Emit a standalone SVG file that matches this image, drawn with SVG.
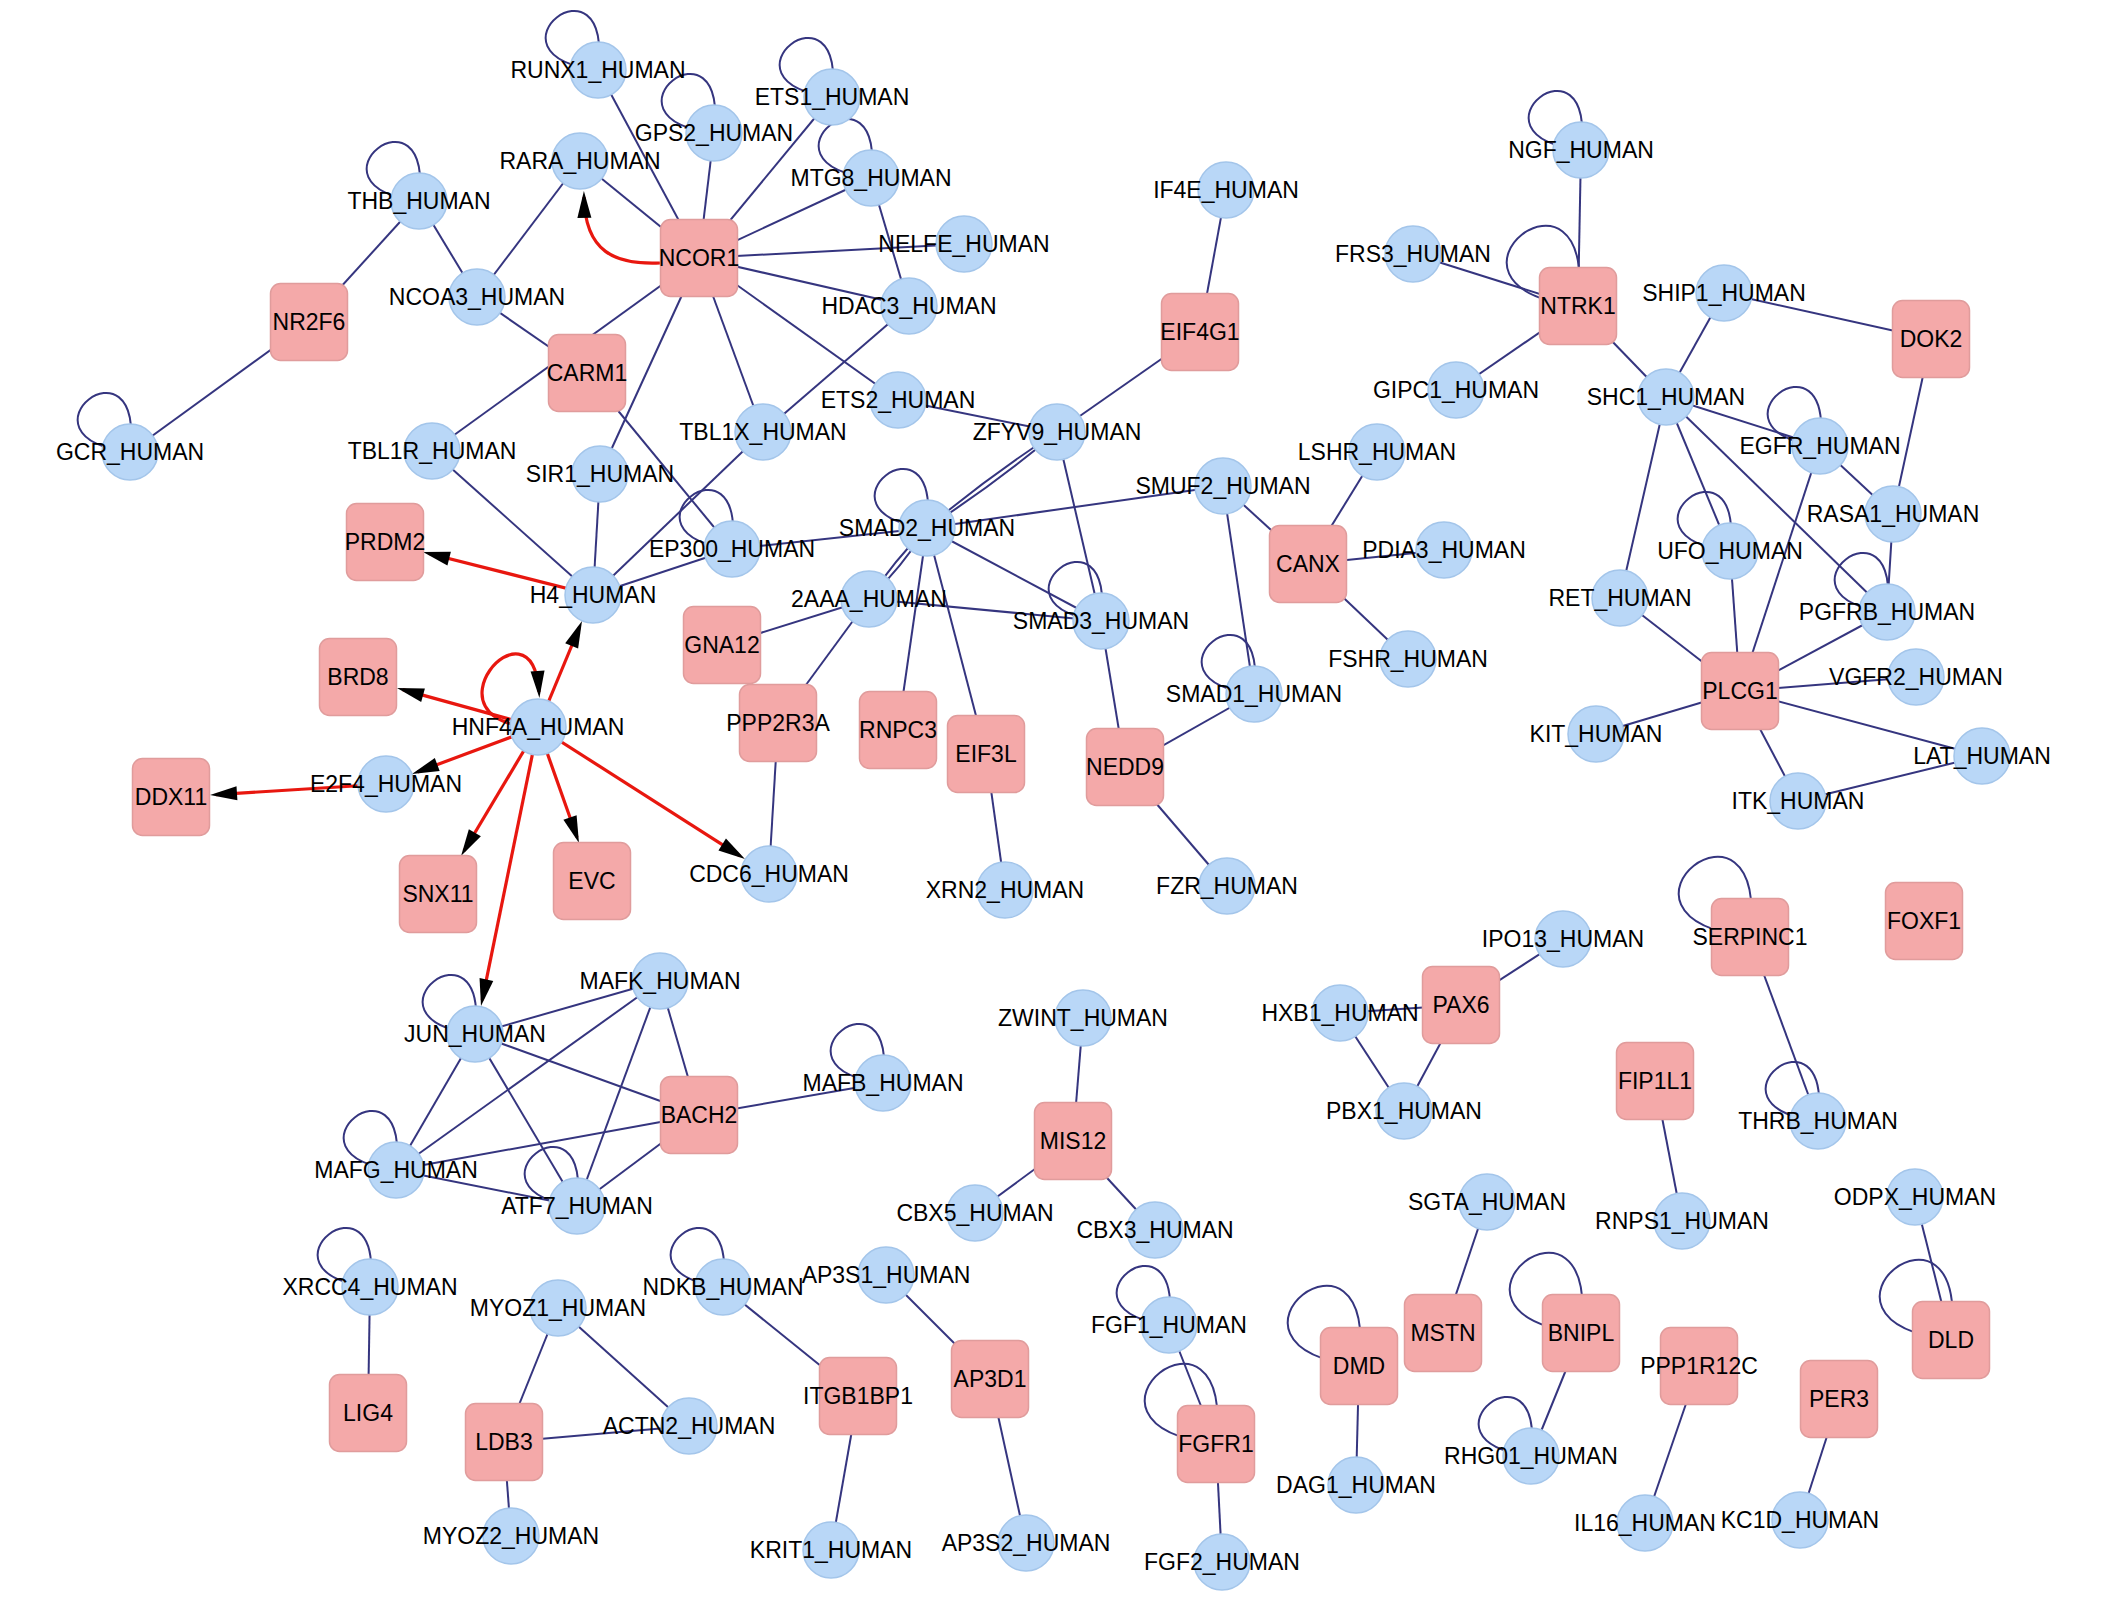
<svg xmlns="http://www.w3.org/2000/svg" width="2126" height="1607" viewBox="0 0 2126 1607">
<style>
.e{stroke:#35357f;stroke-width:2;fill:none}
.r{stroke:#e8170f;stroke-width:3.2;fill:none;marker-end:url(#arr)}
.c{fill:#b9d7f7;stroke:#a3c5ea;stroke-width:1.5}
.b{fill:#f4a9a9;stroke:#e09c9c;stroke-width:1.5}
text{font-family:"Liberation Sans",Arial,sans-serif;font-size:23px;text-anchor:middle;fill:#000}
</style>
<defs>
<marker id="arr" markerUnits="userSpaceOnUse" markerWidth="27" markerHeight="14" refX="21" refY="7" orient="auto" overflow="visible"><path d="M0,0 L27,7 L0,14 z" fill="#000"/></marker>
<path id="lc" d="M0,0 C15,-125 -125,-15 0,0"/>
<path id="lr" d="M0,0 C20,-170 -170,-20 0,0"/>
</defs>
<rect width="2126" height="1607" fill="#fff"/>
<g id="edges">
<line class="e" x1="699" y1="258" x2="598" y2="70"/>
<line class="e" x1="699" y1="258" x2="714" y2="133"/>
<line class="e" x1="699" y1="258" x2="580" y2="161"/>
<line class="e" x1="699" y1="258" x2="832" y2="97"/>
<line class="e" x1="699" y1="258" x2="871" y2="178"/>
<line class="e" x1="699" y1="258" x2="964" y2="244"/>
<line class="e" x1="699" y1="258" x2="909" y2="306"/>
<line class="e" x1="699" y1="258" x2="898" y2="400"/>
<line class="e" x1="699" y1="258" x2="763" y2="432"/>
<line class="e" x1="699" y1="258" x2="432" y2="451"/>
<line class="e" x1="699" y1="258" x2="600" y2="474"/>
<line class="e" x1="871" y1="178" x2="909" y2="306"/>
<line class="e" x1="909" y1="306" x2="763" y2="432"/>
<line class="e" x1="763" y1="432" x2="593" y2="595"/>
<line class="e" x1="580" y1="161" x2="477" y2="297"/>
<line class="e" x1="419" y1="201" x2="477" y2="297"/>
<line class="e" x1="419" y1="201" x2="309" y2="322"/>
<line class="e" x1="309" y1="322" x2="130" y2="452"/>
<line class="e" x1="477" y1="297" x2="587" y2="373"/>
<line class="e" x1="587" y1="373" x2="732" y2="549"/>
<line class="e" x1="432" y1="451" x2="593" y2="595"/>
<line class="e" x1="600" y1="474" x2="593" y2="595"/>
<line class="e" x1="593" y1="595" x2="732" y2="549"/>
<line class="e" x1="732" y1="549" x2="927" y2="528"/>
<line class="e" x1="927" y1="528" x2="1223" y2="486"/>
<path class="e" d="M1057,432 Q995,484 927,528"/>
<path class="e" d="M1057,432 Q989,476 927,528"/>
<path class="e" d="M927,528 Q901.9,566.7 869,599"/>
<path class="e" d="M927,528 Q894.1,560.3 869,599"/>
<line class="e" x1="927" y1="528" x2="1101" y2="621"/>
<line class="e" x1="927" y1="528" x2="898" y2="730"/>
<line class="e" x1="927" y1="528" x2="986" y2="754"/>
<line class="e" x1="869" y1="599" x2="1101" y2="621"/>
<line class="e" x1="869" y1="599" x2="722" y2="645"/>
<line class="e" x1="869" y1="599" x2="778" y2="723"/>
<line class="e" x1="778" y1="723" x2="769" y2="874"/>
<line class="e" x1="986" y1="754" x2="1005" y2="890"/>
<line class="e" x1="1101" y1="621" x2="1125" y2="767"/>
<line class="e" x1="1057" y1="432" x2="1101" y2="621"/>
<line class="e" x1="898" y1="400" x2="1057" y2="432"/>
<line class="e" x1="1057" y1="432" x2="1200" y2="332"/>
<line class="e" x1="1200" y1="332" x2="1226" y2="190"/>
<line class="e" x1="1223" y1="486" x2="1254" y2="694"/>
<line class="e" x1="1223" y1="486" x2="1308" y2="564"/>
<line class="e" x1="1308" y1="564" x2="1377" y2="452"/>
<line class="e" x1="1308" y1="564" x2="1444" y2="550"/>
<line class="e" x1="1308" y1="564" x2="1408" y2="659"/>
<line class="e" x1="1254" y1="694" x2="1125" y2="767"/>
<line class="e" x1="1125" y1="767" x2="1227" y2="886"/>
<line class="e" x1="1581" y1="150" x2="1578" y2="306"/>
<line class="e" x1="1413" y1="254" x2="1578" y2="306"/>
<line class="e" x1="1578" y1="306" x2="1456" y2="390"/>
<line class="e" x1="1578" y1="306" x2="1666" y2="397"/>
<line class="e" x1="1724" y1="293" x2="1666" y2="397"/>
<line class="e" x1="1724" y1="293" x2="1931" y2="339"/>
<line class="e" x1="1931" y1="339" x2="1893" y2="514"/>
<line class="e" x1="1666" y1="397" x2="1820" y2="446"/>
<line class="e" x1="1820" y1="446" x2="1893" y2="514"/>
<line class="e" x1="1666" y1="397" x2="1620" y2="598"/>
<line class="e" x1="1666" y1="397" x2="1730" y2="551"/>
<line class="e" x1="1666" y1="397" x2="1887" y2="612"/>
<line class="e" x1="1820" y1="446" x2="1740" y2="691"/>
<line class="e" x1="1893" y1="514" x2="1887" y2="612"/>
<line class="e" x1="1730" y1="551" x2="1740" y2="691"/>
<line class="e" x1="1620" y1="598" x2="1740" y2="691"/>
<line class="e" x1="1887" y1="612" x2="1740" y2="691"/>
<line class="e" x1="1740" y1="691" x2="1916" y2="677"/>
<line class="e" x1="1740" y1="691" x2="1596" y2="734"/>
<line class="e" x1="1740" y1="691" x2="1982" y2="756"/>
<line class="e" x1="1740" y1="691" x2="1798" y2="801"/>
<line class="e" x1="1798" y1="801" x2="1982" y2="756"/>
<line class="e" x1="475" y1="1034" x2="660" y2="981"/>
<line class="e" x1="475" y1="1034" x2="396" y2="1170"/>
<line class="e" x1="475" y1="1034" x2="577" y2="1206"/>
<line class="e" x1="475" y1="1034" x2="699" y2="1115"/>
<line class="e" x1="660" y1="981" x2="396" y2="1170"/>
<line class="e" x1="660" y1="981" x2="577" y2="1206"/>
<line class="e" x1="660" y1="981" x2="699" y2="1115"/>
<line class="e" x1="396" y1="1170" x2="699" y2="1115"/>
<line class="e" x1="396" y1="1170" x2="577" y2="1206"/>
<line class="e" x1="577" y1="1206" x2="699" y2="1115"/>
<line class="e" x1="699" y1="1115" x2="883" y2="1083"/>
<line class="e" x1="1083" y1="1018" x2="1073" y2="1141"/>
<line class="e" x1="1073" y1="1141" x2="975" y2="1213"/>
<line class="e" x1="1073" y1="1141" x2="1155" y2="1230"/>
<line class="e" x1="370" y1="1287" x2="368" y2="1413"/>
<line class="e" x1="558" y1="1308" x2="504" y2="1442"/>
<line class="e" x1="558" y1="1308" x2="689" y2="1426"/>
<line class="e" x1="504" y1="1442" x2="689" y2="1426"/>
<line class="e" x1="504" y1="1442" x2="511" y2="1536"/>
<line class="e" x1="723" y1="1287" x2="858" y2="1396"/>
<line class="e" x1="858" y1="1396" x2="831" y2="1550"/>
<line class="e" x1="886" y1="1275" x2="990" y2="1379"/>
<line class="e" x1="990" y1="1379" x2="1026" y2="1543"/>
<line class="e" x1="1169" y1="1325" x2="1216" y2="1444"/>
<line class="e" x1="1216" y1="1444" x2="1222" y2="1562"/>
<line class="e" x1="1359" y1="1366" x2="1356" y2="1485"/>
<line class="e" x1="1563" y1="939" x2="1461" y2="1005"/>
<line class="e" x1="1340" y1="1013" x2="1461" y2="1005"/>
<line class="e" x1="1461" y1="1005" x2="1404" y2="1111"/>
<line class="e" x1="1340" y1="1013" x2="1404" y2="1111"/>
<line class="e" x1="1750" y1="937" x2="1818" y2="1121"/>
<line class="e" x1="1655" y1="1081" x2="1682" y2="1221"/>
<line class="e" x1="1487" y1="1202" x2="1443" y2="1333"/>
<line class="e" x1="1581" y1="1333" x2="1531" y2="1456"/>
<line class="e" x1="1915" y1="1197" x2="1951" y2="1340"/>
<line class="e" x1="1699" y1="1366" x2="1645" y2="1523"/>
<line class="e" x1="1839" y1="1399" x2="1800" y2="1520"/>
<use href="#lc" class="e" x="598" y="70"/>
<use href="#lc" class="e" x="714" y="133"/>
<use href="#lc" class="e" x="832" y="97"/>
<use href="#lc" class="e" x="871" y="178"/>
<use href="#lc" class="e" x="419" y="201"/>
<use href="#lc" class="e" x="130" y="452"/>
<use href="#lc" class="e" x="732" y="549"/>
<use href="#lc" class="e" x="927" y="528"/>
<use href="#lc" class="e" x="1101" y="621"/>
<use href="#lc" class="e" x="1254" y="694"/>
<use href="#lc" class="e" x="475" y="1034"/>
<use href="#lc" class="e" x="883" y="1083"/>
<use href="#lc" class="e" x="396" y="1170"/>
<use href="#lc" class="e" x="577" y="1206"/>
<use href="#lc" class="e" x="370" y="1287"/>
<use href="#lc" class="e" x="723" y="1287"/>
<use href="#lc" class="e" x="1169" y="1325"/>
<use href="#lc" class="e" x="1581" y="150"/>
<use href="#lc" class="e" x="1820" y="446"/>
<use href="#lc" class="e" x="1730" y="551"/>
<use href="#lc" class="e" x="1887" y="612"/>
<use href="#lc" class="e" x="1818" y="1121"/>
<use href="#lc" class="e" x="1531" y="1456"/>
<use href="#lr" class="e" x="1578" y="306"/>
<use href="#lr" class="e" x="1216" y="1444"/>
<use href="#lr" class="e" x="1359" y="1366"/>
<use href="#lr" class="e" x="1581" y="1333"/>
<use href="#lr" class="e" x="1951" y="1340"/>
<use href="#lr" class="e" x="1750" y="937"/>
<line class="r" x1="593" y1="595" x2="428.8" y2="553.5"/>
<line class="r" x1="538" y1="727" x2="579.7" y2="626.5"/>
<line class="r" x1="538" y1="727" x2="402.8" y2="689.6"/>
<line class="r" x1="538" y1="727" x2="417.6" y2="771.9"/>
<line class="r" x1="386" y1="784" x2="216" y2="794.6"/>
<line class="r" x1="538" y1="727" x2="464.1" y2="850.8"/>
<line class="r" x1="538" y1="727" x2="482.2" y2="1000.1"/>
<line class="r" x1="538" y1="727" x2="577" y2="837.3"/>
<line class="r" x1="538" y1="727" x2="739.9" y2="855.8"/>
<path class="r" d="M660,263 C615,265 585,252 584,197"/>
<path class="r" d="M538,727 C415,725 532,590 539,692"/>
</g>
<g id="NCOR1"><rect class="b" x="660.5" y="219.5" width="77" height="77" rx="10"/><text x="699" y="266">NCOR1</text></g>
<g id="NR2F6"><rect class="b" x="270.5" y="283.5" width="77" height="77" rx="10"/><text x="309" y="330">NR2F6</text></g>
<g id="CARM1"><rect class="b" x="548.5" y="334.5" width="77" height="77" rx="10"/><text x="587" y="381">CARM1</text></g>
<g id="EIF4G1"><rect class="b" x="1161.5" y="293.5" width="77" height="77" rx="10"/><text x="1200" y="340">EIF4G1</text></g>
<g id="PRDM2"><rect class="b" x="346.5" y="503.5" width="77" height="77" rx="10"/><text x="385" y="550">PRDM2</text></g>
<g id="GNA12"><rect class="b" x="683.5" y="606.5" width="77" height="77" rx="10"/><text x="722" y="653">GNA12</text></g>
<g id="PPP2R3A"><rect class="b" x="739.5" y="684.5" width="77" height="77" rx="10"/><text x="778" y="731">PPP2R3A</text></g>
<g id="RNPC3"><rect class="b" x="859.5" y="691.5" width="77" height="77" rx="10"/><text x="898" y="738">RNPC3</text></g>
<g id="EIF3L"><rect class="b" x="947.5" y="715.5" width="77" height="77" rx="10"/><text x="986" y="762">EIF3L</text></g>
<g id="BRD8"><rect class="b" x="319.5" y="638.5" width="77" height="77" rx="10"/><text x="358" y="685">BRD8</text></g>
<g id="DDX11"><rect class="b" x="132.5" y="758.5" width="77" height="77" rx="10"/><text x="171" y="805">DDX11</text></g>
<g id="SNX11"><rect class="b" x="399.5" y="855.5" width="77" height="77" rx="10"/><text x="438" y="902">SNX11</text></g>
<g id="EVC"><rect class="b" x="553.5" y="842.5" width="77" height="77" rx="10"/><text x="592" y="889">EVC</text></g>
<g id="NEDD9"><rect class="b" x="1086.5" y="728.5" width="77" height="77" rx="10"/><text x="1125" y="775">NEDD9</text></g>
<g id="CANX"><rect class="b" x="1269.5" y="525.5" width="77" height="77" rx="10"/><text x="1308" y="572">CANX</text></g>
<g id="BACH2"><rect class="b" x="660.5" y="1076.5" width="77" height="77" rx="10"/><text x="699" y="1123">BACH2</text></g>
<g id="MIS12"><rect class="b" x="1034.5" y="1102.5" width="77" height="77" rx="10"/><text x="1073" y="1149">MIS12</text></g>
<g id="LIG4"><rect class="b" x="329.5" y="1374.5" width="77" height="77" rx="10"/><text x="368" y="1421">LIG4</text></g>
<g id="LDB3"><rect class="b" x="465.5" y="1403.5" width="77" height="77" rx="10"/><text x="504" y="1450">LDB3</text></g>
<g id="ITGB1BP1"><rect class="b" x="819.5" y="1357.5" width="77" height="77" rx="10"/><text x="858" y="1404">ITGB1BP1</text></g>
<g id="AP3D1"><rect class="b" x="951.5" y="1340.5" width="77" height="77" rx="10"/><text x="990" y="1387">AP3D1</text></g>
<g id="FGFR1"><rect class="b" x="1177.5" y="1405.5" width="77" height="77" rx="10"/><text x="1216" y="1452">FGFR1</text></g>
<g id="DMD"><rect class="b" x="1320.5" y="1327.5" width="77" height="77" rx="10"/><text x="1359" y="1374">DMD</text></g>
<g id="MSTN"><rect class="b" x="1404.5" y="1294.5" width="77" height="77" rx="10"/><text x="1443" y="1341">MSTN</text></g>
<g id="BNIPL"><rect class="b" x="1542.5" y="1294.5" width="77" height="77" rx="10"/><text x="1581" y="1341">BNIPL</text></g>
<g id="PPP1R12C"><rect class="b" x="1660.5" y="1327.5" width="77" height="77" rx="10"/><text x="1699" y="1374">PPP1R12C</text></g>
<g id="DLD"><rect class="b" x="1912.5" y="1301.5" width="77" height="77" rx="10"/><text x="1951" y="1348">DLD</text></g>
<g id="PER3"><rect class="b" x="1800.5" y="1360.5" width="77" height="77" rx="10"/><text x="1839" y="1407">PER3</text></g>
<g id="NTRK1"><rect class="b" x="1539.5" y="267.5" width="77" height="77" rx="10"/><text x="1578" y="314">NTRK1</text></g>
<g id="DOK2"><rect class="b" x="1892.5" y="300.5" width="77" height="77" rx="10"/><text x="1931" y="347">DOK2</text></g>
<g id="PLCG1"><rect class="b" x="1701.5" y="652.5" width="77" height="77" rx="10"/><text x="1740" y="699">PLCG1</text></g>
<g id="SERPINC1"><rect class="b" x="1711.5" y="898.5" width="77" height="77" rx="10"/><text x="1750" y="945">SERPINC1</text></g>
<g id="FOXF1"><rect class="b" x="1885.5" y="882.5" width="77" height="77" rx="10"/><text x="1924" y="929">FOXF1</text></g>
<g id="PAX6"><rect class="b" x="1422.5" y="966.5" width="77" height="77" rx="10"/><text x="1461" y="1013">PAX6</text></g>
<g id="FIP1L1"><rect class="b" x="1616.5" y="1042.5" width="77" height="77" rx="10"/><text x="1655" y="1089">FIP1L1</text></g>
<g id="RUNX1"><circle class="c" cx="598" cy="70" r="28"/><text x="598" y="78">RUNX1_HUMAN</text></g>
<g id="GPS2"><circle class="c" cx="714" cy="133" r="28"/><text x="714" y="141">GPS2_HUMAN</text></g>
<g id="ETS1"><circle class="c" cx="832" cy="97" r="28"/><text x="832" y="105">ETS1_HUMAN</text></g>
<g id="MTG8"><circle class="c" cx="871" cy="178" r="28"/><text x="871" y="186">MTG8_HUMAN</text></g>
<g id="RARA"><circle class="c" cx="580" cy="161" r="28"/><text x="580" y="169">RARA_HUMAN</text></g>
<g id="THB"><circle class="c" cx="419" cy="201" r="28"/><text x="419" y="209">THB_HUMAN</text></g>
<g id="NELFE"><circle class="c" cx="964" cy="244" r="28"/><text x="964" y="252">NELFE_HUMAN</text></g>
<g id="HDAC3"><circle class="c" cx="909" cy="306" r="28"/><text x="909" y="314">HDAC3_HUMAN</text></g>
<g id="IF4E"><circle class="c" cx="1226" cy="190" r="28"/><text x="1226" y="198">IF4E_HUMAN</text></g>
<g id="NCOA3"><circle class="c" cx="477" cy="297" r="28"/><text x="477" y="305">NCOA3_HUMAN</text></g>
<g id="ETS2"><circle class="c" cx="898" cy="400" r="28"/><text x="898" y="408">ETS2_HUMAN</text></g>
<g id="TBL1X"><circle class="c" cx="763" cy="432" r="28"/><text x="763" y="440">TBL1X_HUMAN</text></g>
<g id="ZFYV9"><circle class="c" cx="1057" cy="432" r="28"/><text x="1057" y="440">ZFYV9_HUMAN</text></g>
<g id="GCR"><circle class="c" cx="130" cy="452" r="28"/><text x="130" y="460">GCR_HUMAN</text></g>
<g id="TBL1R"><circle class="c" cx="432" cy="451" r="28"/><text x="432" y="459">TBL1R_HUMAN</text></g>
<g id="SIR1"><circle class="c" cx="600" cy="474" r="28"/><text x="600" y="482">SIR1_HUMAN</text></g>
<g id="EP300"><circle class="c" cx="732" cy="549" r="28"/><text x="732" y="557">EP300_HUMAN</text></g>
<g id="SMAD2"><circle class="c" cx="927" cy="528" r="28"/><text x="927" y="536">SMAD2_HUMAN</text></g>
<g id="SMUF2"><circle class="c" cx="1223" cy="486" r="28"/><text x="1223" y="494">SMUF2_HUMAN</text></g>
<g id="LSHR"><circle class="c" cx="1377" cy="452" r="28"/><text x="1377" y="460">LSHR_HUMAN</text></g>
<g id="2AAA"><circle class="c" cx="869" cy="599" r="28"/><text x="869" y="607">2AAA_HUMAN</text></g>
<g id="SMAD3"><circle class="c" cx="1101" cy="621" r="28"/><text x="1101" y="629">SMAD3_HUMAN</text></g>
<g id="H4"><circle class="c" cx="593" cy="595" r="28"/><text x="593" y="603">H4_HUMAN</text></g>
<g id="HNF4A"><circle class="c" cx="538" cy="727" r="28"/><text x="538" y="735">HNF4A_HUMAN</text></g>
<g id="E2F4"><circle class="c" cx="386" cy="784" r="28"/><text x="386" y="792">E2F4_HUMAN</text></g>
<g id="SMAD1"><circle class="c" cx="1254" cy="694" r="28"/><text x="1254" y="702">SMAD1_HUMAN</text></g>
<g id="PDIA3"><circle class="c" cx="1444" cy="550" r="28"/><text x="1444" y="558">PDIA3_HUMAN</text></g>
<g id="FSHR"><circle class="c" cx="1408" cy="659" r="28"/><text x="1408" y="667">FSHR_HUMAN</text></g>
<g id="CDC6"><circle class="c" cx="769" cy="874" r="28"/><text x="769" y="882">CDC6_HUMAN</text></g>
<g id="XRN2"><circle class="c" cx="1005" cy="890" r="28"/><text x="1005" y="898">XRN2_HUMAN</text></g>
<g id="FZR"><circle class="c" cx="1227" cy="886" r="28"/><text x="1227" y="894">FZR_HUMAN</text></g>
<g id="JUN"><circle class="c" cx="475" cy="1034" r="28"/><text x="475" y="1042">JUN_HUMAN</text></g>
<g id="MAFK"><circle class="c" cx="660" cy="981" r="28"/><text x="660" y="989">MAFK_HUMAN</text></g>
<g id="ZWINT"><circle class="c" cx="1083" cy="1018" r="28"/><text x="1083" y="1026">ZWINT_HUMAN</text></g>
<g id="HXB1"><circle class="c" cx="1340" cy="1013" r="28"/><text x="1340" y="1021">HXB1_HUMAN</text></g>
<g id="MAFB"><circle class="c" cx="883" cy="1083" r="28"/><text x="883" y="1091">MAFB_HUMAN</text></g>
<g id="MAFG"><circle class="c" cx="396" cy="1170" r="28"/><text x="396" y="1178">MAFG_HUMAN</text></g>
<g id="ATF7"><circle class="c" cx="577" cy="1206" r="28"/><text x="577" y="1214">ATF7_HUMAN</text></g>
<g id="XRCC4"><circle class="c" cx="370" cy="1287" r="28"/><text x="370" y="1295">XRCC4_HUMAN</text></g>
<g id="MYOZ1"><circle class="c" cx="558" cy="1308" r="28"/><text x="558" y="1316">MYOZ1_HUMAN</text></g>
<g id="NDKB"><circle class="c" cx="723" cy="1287" r="28"/><text x="723" y="1295">NDKB_HUMAN</text></g>
<g id="ACTN2"><circle class="c" cx="689" cy="1426" r="28"/><text x="689" y="1434">ACTN2_HUMAN</text></g>
<g id="MYOZ2"><circle class="c" cx="511" cy="1536" r="28"/><text x="511" y="1544">MYOZ2_HUMAN</text></g>
<g id="CBX5"><circle class="c" cx="975" cy="1213" r="28"/><text x="975" y="1221">CBX5_HUMAN</text></g>
<g id="CBX3"><circle class="c" cx="1155" cy="1230" r="28"/><text x="1155" y="1238">CBX3_HUMAN</text></g>
<g id="AP3S1"><circle class="c" cx="886" cy="1275" r="28"/><text x="886" y="1283">AP3S1_HUMAN</text></g>
<g id="FGF1"><circle class="c" cx="1169" cy="1325" r="28"/><text x="1169" y="1333">FGF1_HUMAN</text></g>
<g id="DAG1"><circle class="c" cx="1356" cy="1485" r="28"/><text x="1356" y="1493">DAG1_HUMAN</text></g>
<g id="KRIT1"><circle class="c" cx="831" cy="1550" r="28"/><text x="831" y="1558">KRIT1_HUMAN</text></g>
<g id="AP3S2"><circle class="c" cx="1026" cy="1543" r="28"/><text x="1026" y="1551">AP3S2_HUMAN</text></g>
<g id="FGF2"><circle class="c" cx="1222" cy="1562" r="28"/><text x="1222" y="1570">FGF2_HUMAN</text></g>
<g id="PBX1"><circle class="c" cx="1404" cy="1111" r="28"/><text x="1404" y="1119">PBX1_HUMAN</text></g>
<g id="NGF"><circle class="c" cx="1581" cy="150" r="28"/><text x="1581" y="158">NGF_HUMAN</text></g>
<g id="FRS3"><circle class="c" cx="1413" cy="254" r="28"/><text x="1413" y="262">FRS3_HUMAN</text></g>
<g id="SHIP1"><circle class="c" cx="1724" cy="293" r="28"/><text x="1724" y="301">SHIP1_HUMAN</text></g>
<g id="GIPC1"><circle class="c" cx="1456" cy="390" r="28"/><text x="1456" y="398">GIPC1_HUMAN</text></g>
<g id="SHC1"><circle class="c" cx="1666" cy="397" r="28"/><text x="1666" y="405">SHC1_HUMAN</text></g>
<g id="EGFR"><circle class="c" cx="1820" cy="446" r="28"/><text x="1820" y="454">EGFR_HUMAN</text></g>
<g id="RASA1"><circle class="c" cx="1893" cy="514" r="28"/><text x="1893" y="522">RASA1_HUMAN</text></g>
<g id="UFO"><circle class="c" cx="1730" cy="551" r="28"/><text x="1730" y="559">UFO_HUMAN</text></g>
<g id="RET"><circle class="c" cx="1620" cy="598" r="28"/><text x="1620" y="606">RET_HUMAN</text></g>
<g id="PGFRB"><circle class="c" cx="1887" cy="612" r="28"/><text x="1887" y="620">PGFRB_HUMAN</text></g>
<g id="VGFR2"><circle class="c" cx="1916" cy="677" r="28"/><text x="1916" y="685">VGFR2_HUMAN</text></g>
<g id="KIT"><circle class="c" cx="1596" cy="734" r="28"/><text x="1596" y="742">KIT_HUMAN</text></g>
<g id="LAT"><circle class="c" cx="1982" cy="756" r="28"/><text x="1982" y="764">LAT_HUMAN</text></g>
<g id="ITK"><circle class="c" cx="1798" cy="801" r="28"/><text x="1798" y="809">ITK_HUMAN</text></g>
<g id="IPO13"><circle class="c" cx="1563" cy="939" r="28"/><text x="1563" y="947">IPO13_HUMAN</text></g>
<g id="THRB"><circle class="c" cx="1818" cy="1121" r="28"/><text x="1818" y="1129">THRB_HUMAN</text></g>
<g id="SGTA"><circle class="c" cx="1487" cy="1202" r="28"/><text x="1487" y="1210">SGTA_HUMAN</text></g>
<g id="RNPS1"><circle class="c" cx="1682" cy="1221" r="28"/><text x="1682" y="1229">RNPS1_HUMAN</text></g>
<g id="ODPX"><circle class="c" cx="1915" cy="1197" r="28"/><text x="1915" y="1205">ODPX_HUMAN</text></g>
<g id="RHG01"><circle class="c" cx="1531" cy="1456" r="28"/><text x="1531" y="1464">RHG01_HUMAN</text></g>
<g id="IL16"><circle class="c" cx="1645" cy="1523" r="28"/><text x="1645" y="1531">IL16_HUMAN</text></g>
<g id="KC1D"><circle class="c" cx="1800" cy="1520" r="28"/><text x="1800" y="1528">KC1D_HUMAN</text></g>
</svg>
